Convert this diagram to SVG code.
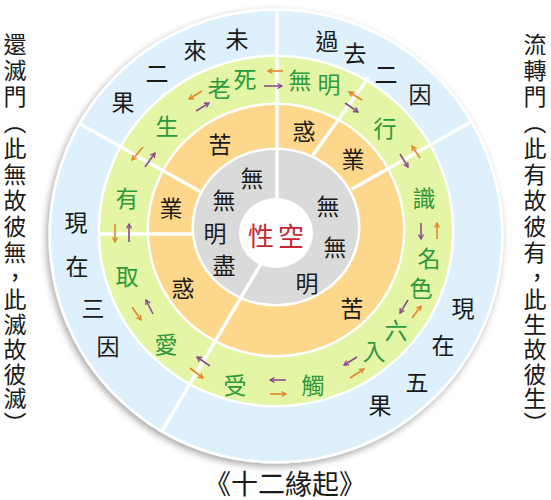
<svg xmlns="http://www.w3.org/2000/svg" width="551" height="500" viewBox="0 0 551 500">
<defs>
<filter id="sh" x="-10%" y="-10%" width="120%" height="120%">
<feDropShadow dx="-2" dy="3" stdDeviation="3.5" flood-color="#000" flood-opacity="0.35"/>
</filter>
<marker id="mo" viewBox="0 0 6 6" refX="5" refY="3" markerWidth="6" markerHeight="6" markerUnits="userSpaceOnUse" orient="auto">
<path d="M0.5,0.5 L5,3 L0.5,5.5" fill="none" stroke="#e3862d" stroke-width="1.3"/>
</marker>
<marker id="mp" viewBox="0 0 6 6" refX="5" refY="3" markerWidth="6" markerHeight="6" markerUnits="userSpaceOnUse" orient="auto">
<path d="M0.5,0.5 L5,3 L0.5,5.5" fill="none" stroke="#8b4b8e" stroke-width="1.3"/>
</marker>
</defs>
<style>
text{font-family:"Noto Sans CJK TC","Noto Sans CJK SC",sans-serif;text-anchor:middle;dominant-baseline:central}
.k{font-size:23px;fill:#1a1a1a}
.g{font-size:23px;fill:#2c9a3c}
.r{font-size:26px;fill:#c62834}
.v{font-size:23px;fill:#1a1a1a;writing-mode:vertical-rl;text-anchor:start}
.c{font-size:26px;fill:#1a1a1a;dominant-baseline:auto}
.t{font-size:27px;fill:#1a1a1a}
.sep{stroke:#fff;stroke-width:3.5;fill:none}
.ao{stroke:#e3862d;stroke-width:1.6;fill:none;marker-end:url(#mo)}
.ap{stroke:#8b4b8e;stroke-width:1.6;fill:none;marker-end:url(#mp)}
</style>
<rect width="551" height="500" fill="#fff"/>
<g id="rings">
<circle cx="276" cy="236" r="227.5" fill="#fff" filter="url(#sh)"/>
<circle cx="276" cy="236" r="225" fill="#ddf0fb"/>
<ellipse cx="276" cy="231" rx="178.5" ry="176.5" fill="#fff"/>
<ellipse cx="276" cy="231" rx="176" ry="174" fill="#e5f5a6"/>
<ellipse cx="276" cy="230" rx="129.5" ry="127.5" fill="#fff"/>
<ellipse cx="276" cy="230" rx="127" ry="125" fill="#fdd78b"/>
<ellipse cx="276" cy="227" rx="84.5" ry="79.5" fill="#fff"/>
<ellipse cx="276" cy="227" rx="82" ry="77" fill="#dadada"/>
<ellipse cx="276" cy="233" rx="37" ry="35" fill="#fff"/>
</g>
<g id="dividers">
<line class="sep" x1="277" y1="198" x2="277" y2="10"/>
<line class="sep" x1="262" y1="262" x2="162" y2="431"/>
<line class="sep" x1="200" y1="191.5" x2="80" y2="124"/>
<line class="sep" x1="352" y1="189" x2="470" y2="122.5"/>
<line class="sep" x1="313" y1="155" x2="369" y2="77"/>
<line class="sep" x1="192" y1="234" x2="99" y2="234"/>
</g>
<g id="center"><text class="r" x="261" y="234">性</text><text class="r" x="291" y="234">空</text></g>
<g id="gray-left"><text class="k" x="252" y="177">無</text><text class="k" x="224" y="199">無</text><text class="k" x="215" y="232">明</text><text class="k" x="224" y="264">盡</text></g>
<g id="gray-right"><text class="k" x="328" y="205">無</text><text class="k" x="335" y="246">無</text><text class="k" x="307" y="282">明</text></g>
<g id="orange">
<text class="k" x="304" y="130">惑</text>
<text class="k" x="353" y="158">業</text>
<text class="k" x="352" y="307">苦</text>
<text class="k" x="183" y="287">惑</text>
<text class="k" x="171" y="207">業</text>
<text class="k" x="220" y="143">苦</text>
</g>
<g id="green">
<text class="g" x="300" y="79">無</text><text class="g" x="329" y="83">明</text>
<text class="g" x="385" y="127">行</text>
<text class="g" x="424" y="197">識</text>
<text class="g" x="429" y="257">名</text><text class="g" x="421" y="287">色</text>
<text class="g" x="396" y="329">六</text><text class="g" x="374" y="350">入</text>
<text class="g" x="313" y="384">觸</text>
<text class="g" x="235" y="384">受</text>
<text class="g" x="166" y="343">愛</text>
<text class="g" x="127" y="275">取</text>
<text class="g" x="127" y="197">有</text>
<text class="g" x="167" y="125">生</text>
<text class="g" x="219" y="87">老</text><text class="g" x="245" y="78">死</text>
</g>
<g id="blue">
<text class="k" x="237" y="38">未</text><text class="k" x="195" y="49">來</text><text class="k" x="157" y="72">二</text><text class="k" x="123" y="101">果</text>
<text class="k" x="327" y="40">過</text><text class="k" x="355" y="52">去</text><text class="k" x="386" y="73">二</text><text class="k" x="420" y="93">因</text>
<text class="k" x="463" y="307">現</text><text class="k" x="443" y="344">在</text><text class="k" x="417" y="381">五</text><text class="k" x="380" y="404">果</text>
<text class="k" x="76" y="221">現</text><text class="k" x="77" y="265">在</text><text class="k" x="93" y="307">三</text><text class="k" x="108" y="345">因</text>
</g>
<g id="connectors">
<line class="ao" x1="202" y1="91" x2="189" y2="99"/>
<line class="ap" x1="196" y1="111" x2="209" y2="103"/>
<line class="ao" x1="283" y1="71" x2="268" y2="71"/>
<line class="ap" x1="264" y1="86" x2="282" y2="86"/>
<line class="ao" x1="362" y1="100" x2="349" y2="92"/>
<line class="ap" x1="345" y1="103" x2="358" y2="112"/>
<line class="ap" x1="400" y1="154" x2="408" y2="167"/>
<line class="ao" x1="420" y1="158" x2="412" y2="146"/>
<line class="ap" x1="421" y1="223" x2="421" y2="239"/>
<line class="ao" x1="437" y1="239" x2="437" y2="223"/>
<line class="ap" x1="408" y1="300" x2="400" y2="313"/>
<line class="ao" x1="412" y1="318" x2="421" y2="306"/>
<line class="ap" x1="357" y1="357" x2="344" y2="365"/>
<line class="ao" x1="350" y1="378" x2="364" y2="369"/>
<line class="ap" x1="286" y1="380" x2="270" y2="380"/>
<line class="ao" x1="270" y1="394" x2="286" y2="394"/>
<line class="ap" x1="210" y1="366" x2="197" y2="357"/>
<line class="ao" x1="190" y1="368" x2="203" y2="378"/>
<line class="ao" x1="132" y1="307" x2="141" y2="320"/>
<line class="ap" x1="153" y1="314" x2="146" y2="300"/>
<line class="ao" x1="115" y1="224" x2="115" y2="242"/>
<line class="ap" x1="129" y1="242" x2="129" y2="224"/>
<line class="ao" x1="143" y1="147" x2="132" y2="160"/>
<line class="ap" x1="145" y1="167" x2="155" y2="153"/>
</g>
<g id="left-caption">
<text class="v" x="15" y="33" letter-spacing="3">還滅門（此無故彼無</text>
<text class="c" x="15" y="277">,</text>
<text class="v" x="15" y="288" letter-spacing="1.8">此滅故彼滅）</text>
</g>
<g id="right-caption">
<text class="v" x="535" y="33" letter-spacing="3">流轉門（此有故彼有</text>
<text class="c" x="537" y="277">,</text>
<text class="v" x="535" y="288" letter-spacing="1.8">此生故彼生）</text>
</g>
<g id="title"><text class="t" x="285" y="482">《十二緣起》</text></g>
</svg>
